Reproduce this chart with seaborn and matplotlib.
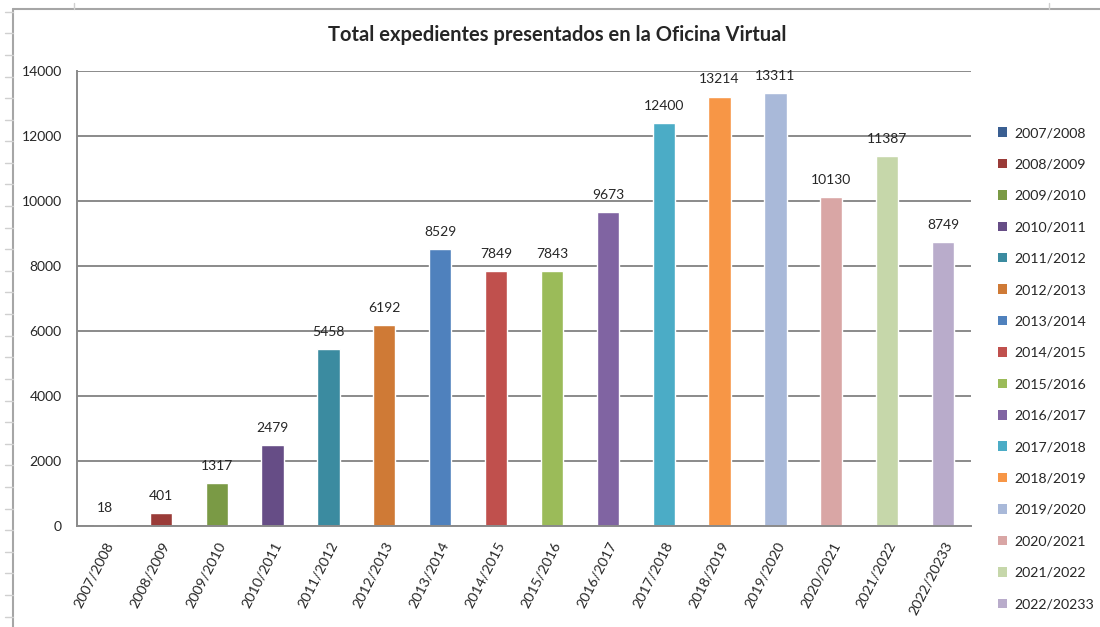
import matplotlib
matplotlib.use('Agg')
import matplotlib.pyplot as plt
import seaborn as sns
import pandas as pd
import numpy as np
from matplotlib.lines import Line2D
from matplotlib.patches import Patch

# Datos
periodos = ['2007/2008', '2008/2009', '2009/2010', '2010/2011', '2011/2012',
            '2012/2013', '2013/2014', '2014/2015', '2015/2016', '2016/2017',
            '2017/2018', '2018/2019', '2019/2020', '2020/2021', '2021/2022',
            '2022/20233']
expedientes = [18, 401, 1317, 2479, 5458, 6192, 8529, 7849, 7843, 9673,
               12400, 13214, 13311, 10130, 11387, 8749]
colores = ['#3A5F92', '#9A3B38', '#7A9A45', '#664D86', '#3B8BA0', '#CF7A36',
           '#4F81BD', '#C0504D', '#9BBB59', '#8064A2', '#4BACC6', '#F79646',
           '#A9B9D9', '#D9A6A5', '#C6D7AA', '#B9ACCB']

df = pd.DataFrame({'periodo': periodos, 'expedientes': expedientes})

sns.set_style('white')
plt.rcParams['font.family'] = ['Lato', 'DejaVu Sans']
gris = '#8A8A8A'

fig = plt.figure(figsize=(11, 6.27), dpi=100)
ax = fig.add_axes([77 / 1100, 1 - 526 / 627, (971 - 77) / 1100, (526 - 71) / 627])

sns.barplot(data=df, x='periodo', y='expedientes', hue='periodo',
            palette=colores, width=0.4, legend=False, ax=ax, saturation=1)

ax.set_ylim(0, 14000)
ax.set_xlim(-0.5, len(periodos) - 0.5)
ax.set_yticks(range(0, 14001, 2000))
ax.yaxis.grid(True, color=gris, linewidth=1.4)
ax.set_axisbelow(True)
ax.set_xlabel('')
ax.set_ylabel('')

# ticks del eje x en los límites de categoría
ax.set_xticks(np.arange(len(periodos)))
ax.set_xticklabels(periodos, rotation=63, ha='right', rotation_mode='anchor', fontsize=10.3)
ax.set_xticks(np.arange(-0.5, len(periodos)), minor=True)
ax.tick_params(axis='x', which='major', length=0, pad=10)
ax.tick_params(axis='x', which='minor', length=5, color=gris, width=1.2, direction='out')
ax.tick_params(axis='y', length=5, color=gris, width=1.2, direction='out', labelsize=10, pad=6)

for side in ['top', 'right']:
    ax.spines[side].set_visible(False)
for side in ['left', 'bottom']:
    ax.spines[side].set_color(gris)
    ax.spines[side].set_linewidth(1.4)

# etiquetas de valor
for i, v in enumerate(expedientes):
    ax.annotate(str(v), (i, v), xytext=(0, 8), textcoords='offset points',
                ha='center', va='bottom', fontsize=10)

fig.suptitle('Total expedientes presentados en la Oficina Virtual',
             x=557 / 1100, y=1 - 35 / 627, va='center', fontsize=14.5, fontweight='bold')

handles = [Patch(facecolor=c, edgecolor='none') for c in colores]
fig.legend(handles, periodos, loc='upper left', bbox_to_anchor=(991 / 1100, 1 - 120 / 627),
           frameon=False, fontsize=10.2, handlelength=0.65, handleheight=0.65,
           handletextpad=0.5, labelspacing=1.37, borderpad=0)

# marco del área del gráfico y líneas de la hoja de cálculo
fig.add_artist(Line2D([13 / 1100, 1], [1 - 9 / 627, 1 - 9 / 627], color='#A6A6A6', lw=1.5))
fig.add_artist(Line2D([13 / 1100, 13 / 1100], [0, 1 - 9 / 627], color='#A6A6A6', lw=1.5))
for y in np.arange(11.7, 627, 21.6):
    fig.add_artist(Line2D([5 / 1100, 13 / 1100], [1 - y / 627, 1 - y / 627], color='#D0D0D0', lw=1))
for x in [74, 1049]:
    fig.add_artist(Line2D([x / 1100, x / 1100], [1 - 3 / 627, 1 - 9 / 627], color='#D0D0D0', lw=1))

fig.savefig('out.png', dpi=100)
